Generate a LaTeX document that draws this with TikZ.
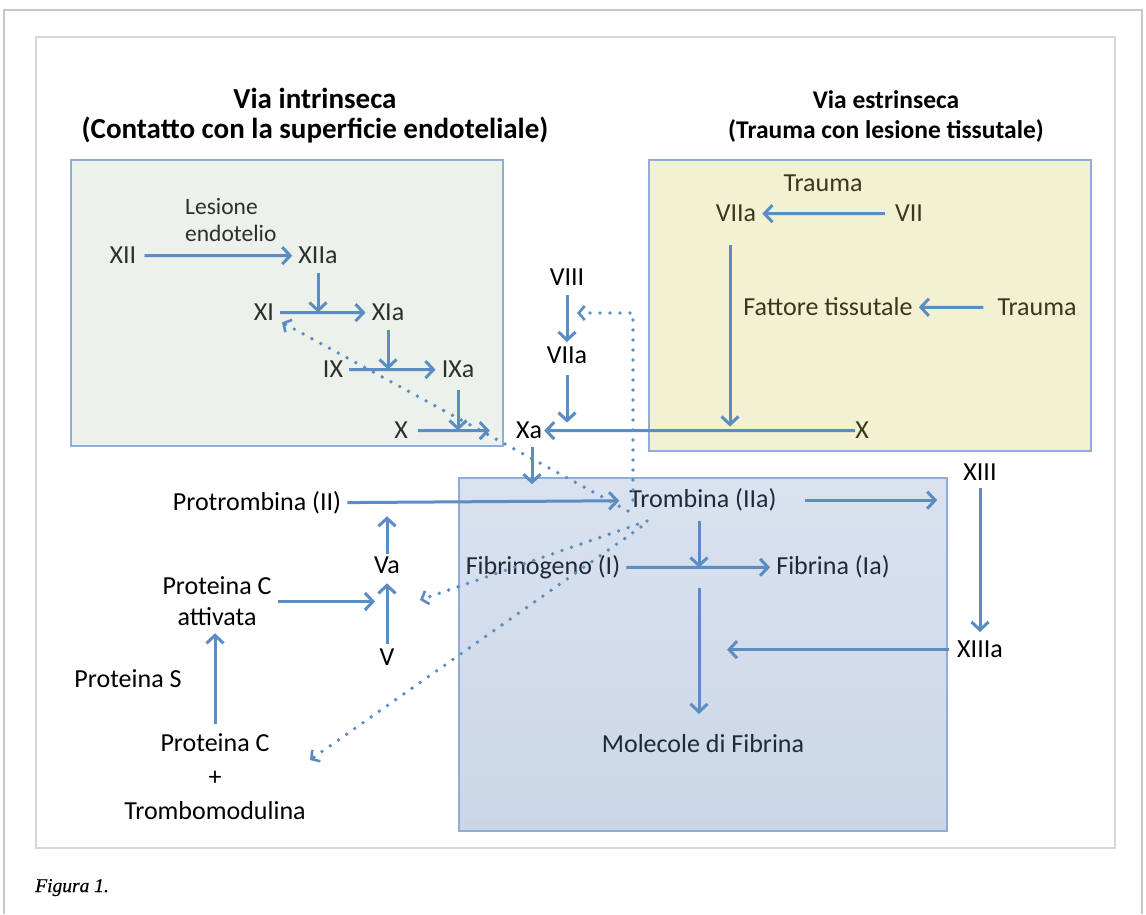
\documentclass[tikz,border=0pt]{standalone}
\usepackage{fontspec}
\setmainfont{Carlito}
\newfontfamily\capfont[FakeBold=0.6]{Liberation Serif}
\usetikzlibrary{arrows.meta}
\definecolor{arrc}{HTML}{5B8DC3}
\definecolor{boxb}{HTML}{8FADD6}
\definecolor{greenfill}{HTML}{EDF1EB}
\definecolor{yelfill}{HTML}{F2F1D2}
\definecolor{bluetop}{HTML}{DAE2EF}
\definecolor{bluebot}{HTML}{CAD6E7}
\definecolor{tg}{HTML}{2E2E2E}
\definecolor{ty}{HTML}{38381C}
\definecolor{tb}{HTML}{1E2A3A}
\begin{document}
\begin{tikzpicture}[x=1pt,y=-1pt,
  lbl/.style={inner xsep=6pt, inner ysep=5pt, anchor=mid, yshift=-3.5pt, font=\fontsize{26}{31}\selectfont, text=black},
  small/.style={inner sep=0pt, font=\fontsize{23.5}{27}\selectfont, text=tg, align=left},
  titleL/.style={inner sep=0pt, anchor=mid, yshift=-7pt, font=\bfseries\fontsize{29}{34}\selectfont, text=black},
  titleR/.style={inner sep=0pt, anchor=mid, yshift=-7pt, font=\bfseries\fontsize{25.5}{30}\selectfont, text=black},
  arr/.style={draw=arrc, line width=3pt, -{Straight Barb[length=8pt,width=17pt,line width=3pt]}},
  dots/.style={draw=arrc, line width=3.8pt, line cap=round, dash pattern=on 0pt off 10pt,
    -{Straight Barb[length=6pt,width=14pt,line width=2.6pt]}},
]
\useasboundingbox (0,0) rectangle (1146,914);
\fill[white] (0,0) rectangle (1146,914);
% frames
\draw[black!22, line width=1.8pt] (4,914) -- (4,10) -- (1142,10) -- (1142,914);
\draw[black!16, line width=1.3pt] (36,37) rectangle (1115,848);
% boxes
\draw[fill=greenfill, draw=boxb, line width=1.3pt] (71,160) rectangle (503,446);
\draw[fill=yelfill, draw=boxb, line width=1.3pt] (649,160) rectangle (1091,451);
\shade[top color=bluetop, bottom color=bluebot] (459,478) rectangle (947,831);
\draw[draw=boxb, line width=1.3pt] (459,478) rectangle (947,831);
% titles
\node[titleL] (ti1) at (315,99) {Via intrinseca};
\node[titleL] (ti2) at (315,129) {(Contatto con la superficie endoteliale)};
\node[titleR] (te1) at (886,99) {Via estrinseca};
\node[titleR] (te2) at (886,129) {(Trauma con lesione tissutale)};
% intrinsic
\node[small, anchor=west] (les) at (185,220) {Lesione\\endotelio};
\node[lbl, text=tg] (XII) at (123,258) {XII};
\node[lbl, text=tg] (XIIa) at (318,258) {XIIa};
\node[lbl, text=tg] (XI) at (264,315) {XI};
\node[lbl, text=tg] (XIa) at (388,315) {XIa};
\node[lbl, text=tg] (IX) at (333,372) {IX};
\node[lbl, text=tg] (IXa) at (458,372) {IXa};
\node[lbl, text=tg] (Xg) at (401,433) {X};
\node[lbl] (Xa) at (529,433) {Xa};
% middle
\node[lbl] (VIII) at (567,280) {VIII};
\node[lbl] (VIIIa) at (567,358) {VIIa};
% extrinsic
\node[lbl, text=ty] (tr1) at (823,186) {Trauma};
\node[lbl, text=ty] (VIIy) at (736,216) {VIIa};
\node[lbl, text=ty] (VII) at (909,216) {VII};
\node[lbl, text=ty] (fat) at (828,310) {Fattore tissutale};
\node[lbl, text=ty] (tr2) at (1037,310) {Trauma};
\node[lbl, text=ty, inner xsep=0pt] (Xe) at (862,433) {X};
% lower left
\node[lbl] (prot) at (257,505) {Protrombina (II)};
\node[lbl] (Va) at (387,568) {Va};
\node[lbl, align=center, anchor=center, yshift=0pt] (PCa) at (217,598) {Proteina C\\attivata};
\node[lbl] (V) at (387,660) {V};
\node[lbl] (PS) at (128,682) {Proteina S};
\node[lbl, align=center, anchor=center, yshift=0pt, font=\fontsize{26}{34}\selectfont] (PCT) at (215,773) {Proteina C\\+\\Trombomodulina};
% blue box
\node[lbl, text=tb] (tromb) at (703,502) {Trombina (IIa)};
\node[lbl, text=tb] (fibg) at (543,569) {Fibrinogeno (I)};
\node[lbl, text=tb] (fibr) at (833,569) {Fibrina (Ia)};
\node[lbl, text=tb] (mol) at (703,747) {Molecole di Fibrina};
\node[lbl] (XIII) at (980,475) {XIII};
\node[lbl] (XIIIa) at (980,652) {XIIIa};
% caption
\node[anchor=base west, inner sep=0pt, font=\capfont\itshape\fontsize{19.5}{22}\selectfont] (cap) at (35,892) {Figura 1.};
% solid arrows
\draw[arr, shorten <=2pt] (XII) -- (XIIa);
\draw[arr, shorten <=4pt] (XIIa) -- (XIIa |- XI);
\draw[arr] (XI) -- (XIa);
\draw[arr, shorten <=4pt] (XIa) -- (XIa |- IX);
\draw[arr] (IX) -- (IXa);
\draw[arr, shorten <=7pt] (IXa) -- (IXa |- Xg);
\draw[arr, shorten <=4pt, shorten >=20pt] (Xg) -- (Xa);
\draw[arr, shorten <=4pt] (VIII) -- (VIIIa);
\draw[arr, shorten <=6pt, shorten >=8pt] (VIIIa) -- (VIIIa |- Xa);
\draw[arr, shorten >=-4pt] (Xe) -- (Xa);
\draw[arr, shorten <=4pt] (VII) -- (VIIy);
\draw[arr, shorten <=18pt, shorten >=4pt] ([xshift=-6pt]VIIy.south) -- ([xshift=-6pt]VIIy.south |- Xe);
\draw[arr, shorten <=8pt] (tr2) -- (fat);
\draw[arr] ([xshift=3pt,yshift=-3pt]Xa.south) -- ++(0,37);
\draw[arr, shorten >=4pt] (prot) -- (tromb);
\draw[arr, shorten <=-2pt, shorten >=13pt] (Va) -- (Va |- prot);
\draw[arr, shorten >=4pt] (V) -- (Va);
\draw[arr, shorten >=12pt] (PCa) -- (PCa -| Va);
\draw[arr, shorten <=4pt, shorten >=2pt] (PCT) -- (PCT |- PCa.south);
\draw[arr, shorten <=22pt, shorten >=20pt] (tromb.east) -- (tromb.east -| XIII.west);
\draw[arr, shorten <=4pt] ([xshift=-4pt]tromb.south) -- ([xshift=-4pt]tromb.south |- fibg);
\draw[arr] (fibg) -- (fibr);
\draw[arr, shorten <=20pt, shorten >=30pt] ([xshift=-4pt]tromb.south |- fibg) -- ([xshift=-4pt]tromb.south |- mol);
\draw[arr, shorten <=2pt, shorten >=4pt] (XIII) -- (XIIIa);
\draw[arr, shorten <=2pt, shorten >=24pt] (XIIIa) -- (XIIIa -| tromb);
% dotted connectors
\coordinate (o1) at (628,511);
\coordinate (o2) at (633,500);
\coordinate (o3) at (647,521);
\coordinate (o4) at (641,527);
\coordinate (v8) at (577,313);
\coordinate (d3) at (420,600);
\coordinate (d4) at (310,760);
\draw[dots, shorten >=2pt] (o1) -- (XI);
\draw[dots] (o2) |- (v8);
\draw[dots] (o3) -- (d3);
\draw[dots] (o4) -- (d4);
\end{tikzpicture}
\end{document}
